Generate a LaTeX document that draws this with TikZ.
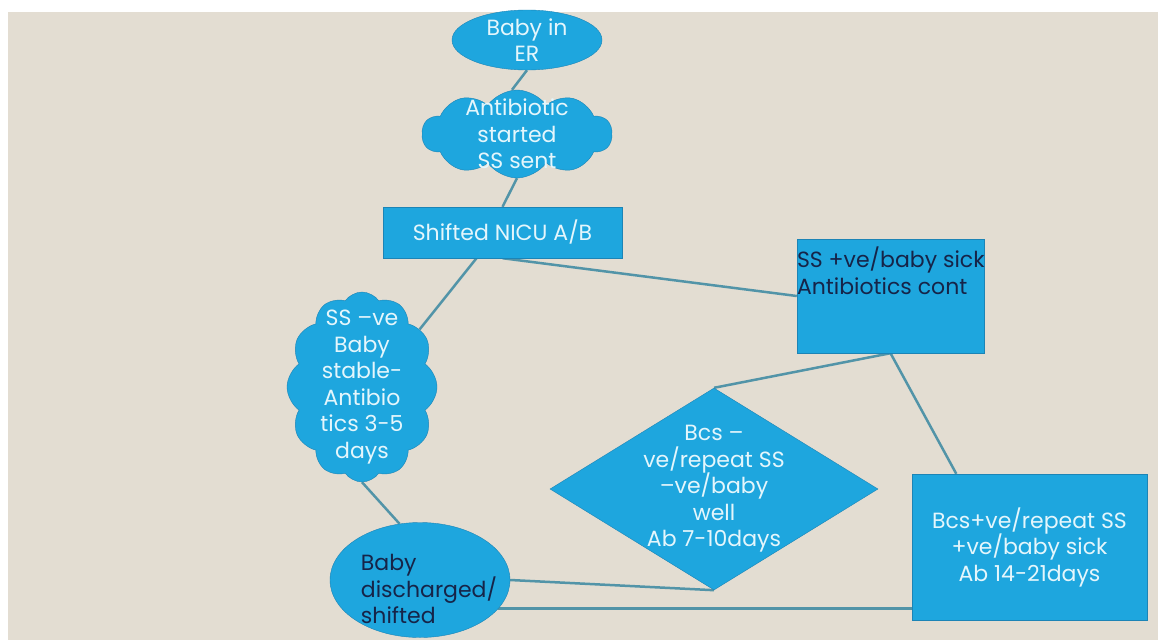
\documentclass[tikz,border=0pt]{standalone}
\usepackage{fontspec}
\setmainfont{Poppins}
\usepackage{tikz}
\usetikzlibrary{shapes,positioning,backgrounds}
\definecolor{sand}{RGB}{227,221,210}
\definecolor{blaa}{RGB}{30,166,222}
\definecolor{blaakant}{RGB}{28,132,182}
\definecolor{strek}{RGB}{82,148,168}
\definecolor{marine}{RGB}{22,36,72}
\definecolor{lys}{RGB}{228,246,252}
\tikzset{
    % Define text style
    tekst/.style={
           align=center,
           text=lys,
           inner sep=0pt,
           font=\fontsize{22}{26.5}\selectfont,
           },
    % Define shape styles
    oval/.style={
           ellipse,
           fill=blaa,
           draw=blaakant,
           inner sep=0pt,
           },
    sky/.style={
           cloud,
           cloud puffs=10,
           cloud puff arc=110,
           cloud ignores aspect,
           fill=blaa,
           draw=blaakant,
           inner sep=0pt,
           },
    boks/.style={
           rectangle,
           fill=blaa,
           draw=blaakant,
           inner sep=0pt,
           },
    ruter/.style={
           diamond,
           fill=blaa,
           draw=blaakant,
           inner sep=0pt,
           },
    % Define connector style
    pil/.style={
           strek,
           line width=2.5pt,
           },
}
\begin{document}
\begin{tikzpicture}[x=1pt,y=-1pt]
  	\node (er) at (527,40) [oval, minimum width=150pt, minimum height=60pt,
  	      label={[tekst]center:Baby in\\ER}] {};
  	\node (abx) at (517,134) [sky, minimum width=190pt, minimum height=88pt,
  	      label={[tekst]center:Antibiotic\\started\\SS sent}] {};
  	\node (nicu) at (502.5,232.5) [boks, minimum width=239pt, minimum height=51pt,
  	      label={[tekst]center:Shifted NICU A/B}] {};
  	\node (neg) at (362,387) [sky, cloud puffs=12, minimum width=150pt, minimum height=190pt,
  	      label={[tekst]center:SS –ve\\Baby\\stable-\\Antibio\\tics 3-5\\days}] {};
  	\node (pos) at (890.5,296) [boks, minimum width=187pt, minimum height=114pt,
  	      label={[tekst, text=marine, align=left, anchor=north west, yshift=-8pt]north west:SS +ve/baby sick\\Antibiotics cont}] {};
  	\node (well) at (714,489) [ruter, minimum width=328pt, minimum height=202pt,
  	      label={[tekst]center:Bcs –\\ve/repeat SS\\–ve/baby\\well\\Ab 7-10days}] {};
  	\node (sick) at (1029.5,547) [boks, minimum width=235pt, minimum height=146pt,
  	      label={[tekst]center:Bcs+ve/repeat SS\\+ve/baby sick\\Ab 14-21days}] {};
  	\node (home) at (420,580) [oval, minimum width=180pt, minimum height=115pt,
  	      label={[tekst, text=marine, align=left, xshift=9pt, yshift=-9pt]center:Baby\\discharged/\\shifted}] {};
  	\begin{scope}[on background layer]
  	\fill[white] (0,0) rectangle (1158,640);
  	\fill[sand] (8,12) rectangle (1158,640);
%  	connectors
  	\draw [pil] (er.south) -- ([xshift=-5pt]abx.north);
  	\draw [pil] (abx.south) -- (nicu.north);
  	\draw [pil] ([xshift=-26pt]nicu.south) -- (neg.45);
  	\draw [pil] (nicu.south) -- (pos.west);
  	\draw [pil] (pos.south) -- (well.north);
  	\draw [pil] (pos.south) -- (sick.135);
  	\draw [pil] (neg.south) -- (home.110);
  	\draw [pil] (home.east) -- (well.south);
  	\draw [pil] (home.-20) -- (home.-20 -| sick.west);
  	\end{scope}
\end{tikzpicture}
\end{document}
